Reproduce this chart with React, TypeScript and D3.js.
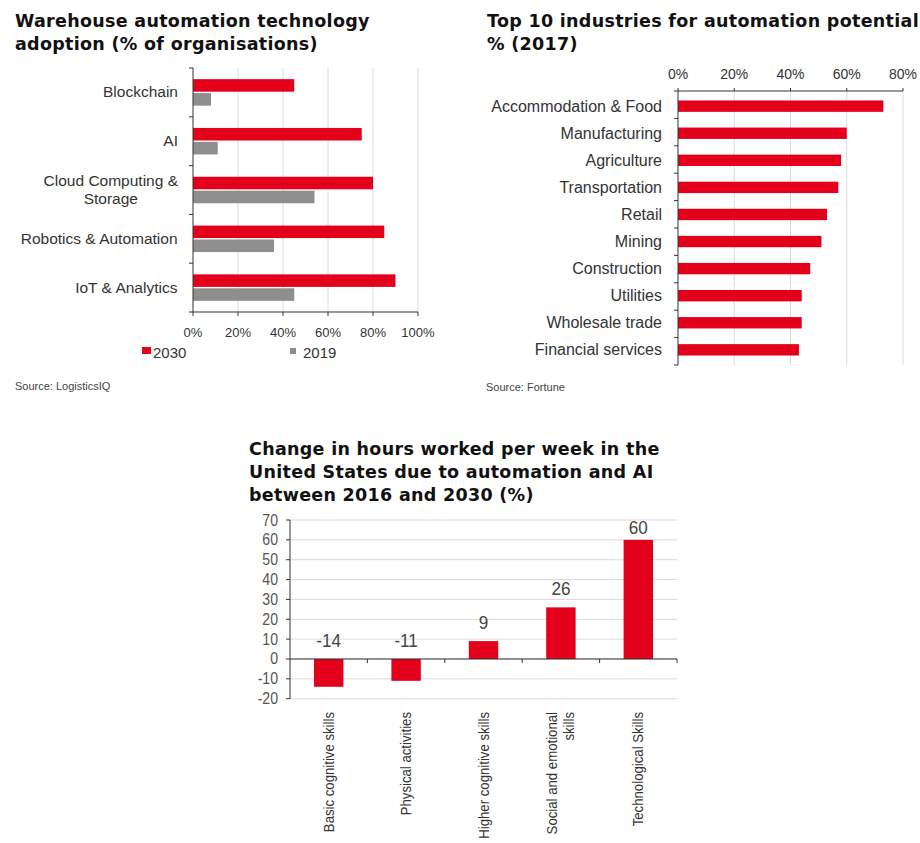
import React from "react";
import * as d3 from "d3";

// ---------- Data ----------
const whCategories = ["Blockchain", "AI", "Cloud Computing &\nStorage", "Robotics & Automation", "IoT & Analytics"];
const wh2030 = [45, 75, 80, 85, 90];
const wh2019 = [8, 11, 54, 36, 45];
const whTicks = [0, 20, 40, 60, 80, 100];
const whSeries = ["2030", "2019"];

const indCategories = [
  "Accommodation & Food",
  "Manufacturing",
  "Agriculture",
  "Transportation",
  "Retail",
  "Mining",
  "Construction",
  "Utilities",
  "Wholesale trade",
  "Financial services",
];
const indValues = [73, 60, 58, 57, 53, 51, 47, 44, 44, 43];
const indTicks = [0, 20, 40, 60, 80];

const hrsCategories = [
  "Basic cognitive skills",
  "Physical activities",
  "Higher cognitive skills",
  "Social and emotional\nskills",
  "Technological Skills",
];
const hrsValues = [-14, -11, 9, 26, 60];
const hrsTicks = [-20, -10, 0, 10, 20, 30, 40, 50, 60, 70];

// ---------- Styles ----------
const RED = "#E3001B";
const GRAY = "#8E8E8E";
const GRID = "#DADADA";
const AXIS = "#333";
const TXT = "#333";
const TITLE_FONT = "'DejaVu Sans', Arial, sans-serif";
const FONT = "'Liberation Sans', Arial, sans-serif";

let measureCtx: CanvasRenderingContext2D | null = null;
function textWidth(t: string, font: string) {
  if (!measureCtx) measureCtx = document.createElement("canvas").getContext("2d");
  if (!measureCtx) return t.length * 7;
  measureCtx.font = font;
  return measureCtx.measureText(t).width;
}

function Title({ x, y, lines }: { x: number; y: number; lines: string[] }) {
  return (
    <text x={x} y={y} fontFamily={TITLE_FONT} fontWeight="bold" fontSize={17.5} letterSpacing={0.3} fill="#111">
      {lines.map((l, i) => (
        <tspan key={i} x={x} dy={i === 0 ? 0 : 23}>
          {l}
        </tspan>
      ))}
    </text>
  );
}

function WarehouseChart() {
  const x = d3.scaleLinear().domain([0, 100]).range([193, 418]);
  const y = d3.scaleBand<string>().domain(whCategories).range([68, 312]).paddingInner(0).paddingOuter(0);
  const inner = d3.scaleBand<string>().domain(whSeries).range([0, y.bandwidth()]).paddingInner(0.1).paddingOuter(0.8);
  const colors: Record<string, string> = { "2030": RED, "2019": GRAY };
  const vals: Record<string, number[]> = { "2030": wh2030, "2019": wh2019 };
  const labelFont = `15.5px ${FONT}`;
  const labelRight = 178;
  return (
    <g>
      <Title x={15} y={27} lines={["Warehouse automation technology", "adoption (% of organisations)"]} />
      {whTicks.slice(1).map((t) => (
        <line key={t} x1={x(t)} x2={x(t)} y1={68} y2={312} stroke={GRID} />
      ))}
      {whSeries.map((s) =>
        whCategories.map((c, i) => (
          <rect
            key={s + c}
            x={x(0)}
            y={(y(c) as number) + (inner(s) as number)}
            width={x(vals[s][i]) - x(0)}
            height={inner.bandwidth()}
            fill={colors[s]}
          />
        ))
      )}
      <line x1={x(0)} x2={x(0)} y1={68} y2={312} stroke={AXIS} />
      {[...whCategories.map((c) => y(c) as number), 312].map((v, i) => (
        <line key={i} x1={x(0) - 4} x2={x(0)} y1={v} y2={v} stroke={AXIS} />
      ))}
      <line x1={x(0)} x2={x(100)} y1={312} y2={312} stroke={AXIS} />
      {whTicks.map((t) => (
        <g key={t}>
          <line x1={x(t)} x2={x(t)} y1={312} y2={316} stroke={AXIS} />
          <text x={x(t)} y={337} textAnchor="middle" fontFamily={FONT} fontSize={13} fill={TXT}>
            {t}%
          </text>
        </g>
      ))}
      {whCategories.map((c) => {
        const lines = c.split("\n");
        const cy = (y(c) as number) + y.bandwidth() / 2;
        const maxW = Math.max(...lines.map((l) => textWidth(l, labelFont)));
        const cx = labelRight - maxW / 2;
        return (
          <text key={c} fontFamily={FONT} fontSize={15.5} fill={TXT} textAnchor="middle">
            {lines.map((l, i) => (
              <tspan key={i} x={cx} y={cy + 5 + (i - (lines.length - 1) / 2) * 18}>
                {l}
              </tspan>
            ))}
          </text>
        );
      })}
      {/* legend */}
      <rect x={142} y={347} width={9} height={7} fill={RED} />
      <text x={153} y={358} fontFamily={FONT} fontSize={15} fill={TXT}>
        2030
      </text>
      <rect x={290} y={348} width={6} height={6} fill={GRAY} />
      <text x={303} y={358} fontFamily={FONT} fontSize={15} fill={TXT}>
        2019
      </text>
      <text x={15} y={390} fontFamily={FONT} fontSize={11} fill="#444">
        Source: LogisticsIQ
      </text>
    </g>
  );
}

function IndustryChart() {
  const x = d3.scaleLinear().domain([0, 80]).range([678, 903]);
  const y = d3.scaleBand<string>().domain(indCategories).range([91, 365]).paddingInner(0.58).paddingOuter(0.35);
  const bounds = d3.range(indCategories.length + 1).map((i) => 91 + (i * 274) / indCategories.length);
  return (
    <g>
      <Title x={487} y={27} lines={["Top 10 industries for automation potential", "% (2017)"]} />
      {indTicks.slice(1).map((t) => (
        <line key={t} x1={x(t)} x2={x(t)} y1={91} y2={365} stroke={GRID} />
      ))}
      {indCategories.map((c, i) => (
        <rect key={c} x={x(0)} y={y(c) as number} width={x(indValues[i]) - x(0)} height={y.bandwidth()} fill={RED} />
      ))}
      <line x1={x(0)} x2={x(80)} y1={91} y2={91} stroke={AXIS} />
      {indTicks.map((t) => (
        <g key={t}>
          <line x1={x(t)} x2={x(t)} y1={88} y2={91} stroke={AXIS} />
          <text x={x(t)} y={79} textAnchor="middle" fontFamily={FONT} fontSize={14} fill={TXT}>
            {t}%
          </text>
        </g>
      ))}
      <line x1={x(0)} x2={x(0)} y1={91} y2={365} stroke={AXIS} />
      {bounds.map((v, i) => (
        <line key={i} x1={x(0) - 4} x2={x(0)} y1={v} y2={v} stroke={AXIS} />
      ))}
      {indCategories.map((c) => (
        <text
          key={c}
          x={662}
          y={(y(c) as number) + y.bandwidth() / 2 + 5.5}
          textAnchor="end"
          fontFamily={FONT}
          fontSize={16}
          fill={TXT}
        >
          {c}
        </text>
      ))}
      <text x={486} y={391} fontFamily={FONT} fontSize={11} fill="#444">
        Source: Fortune
      </text>
    </g>
  );
}

function HoursChart() {
  const y = d3.scaleLinear().domain([-20, 70]).range([698.7, 520]);
  const x = d3.scaleBand<string>().domain(hrsCategories).range([290, 677]).paddingInner(0.62).paddingOuter(0.31);
  const step = x.step();
  return (
    <g>
      <Title
        x={249}
        y={455}
        lines={["Change in hours worked per week in the", "United States due to automation and AI", "between 2016 and 2030 (%)"]}
      />
      {hrsTicks.map((t) => (
        <line key={t} x1={290} x2={677} y1={y(t)} y2={y(t)} stroke={GRID} />
      ))}
      {hrsCategories.map((c, i) => {
        const v = hrsValues[i];
        return (
          <rect
            key={c}
            x={x(c) as number}
            y={y(Math.max(v, 0))}
            width={x.bandwidth()}
            height={Math.abs(y(v) - y(0))}
            fill={RED}
          />
        );
      })}
      <line x1={290} x2={290} y1={520} y2={698.7} stroke={AXIS} />
      {hrsTicks.map((t) => (
        <g key={t}>
          <line x1={286} x2={290} y1={y(t)} y2={y(t)} stroke={AXIS} />
          <text
            transform={`translate(278,${y(t) + 5.5}) scale(0.88,1)`}
            textAnchor="end"
            fontFamily={FONT}
            fontSize={16}
            fill="#555"
          >
            {t}
          </text>
        </g>
      ))}
      <line x1={290} x2={677} y1={y(0)} y2={y(0)} stroke={AXIS} />
      {hrsCategories.slice(1).map((c) => {
        const bx = (x(c) as number) - (step - x.bandwidth()) / 2;
        return <line key={c} x1={bx} x2={bx} y1={y(0)} y2={y(0) + 4} stroke={AXIS} />;
      })}
      <line x1={677} x2={677} y1={y(0)} y2={y(0) + 4} stroke={AXIS} />
      {hrsCategories.map((c, i) => {
        const v = hrsValues[i];
        const cx = (x(c) as number) + x.bandwidth() / 2;
        const by = Math.max(y(Math.max(v, 0)) - 12, 534);
        return (
          <text
            key={c}
            transform={`translate(${cx},${by}) scale(0.9,1)`}
            textAnchor="middle"
            fontFamily={FONT}
            fontSize={19}
            fill="#444"
          >
            {v}
          </text>
        );
      })}
      {hrsCategories.map((c) => {
        const lines = c.split("\n");
        const cx = (x(c) as number) + x.bandwidth() / 2;
        return (
          <text
            key={c}
            transform={`translate(${cx},712) rotate(-90) scale(0.88,1)`}
            textAnchor="end"
            fontFamily={FONT}
            fontSize={15}
            fill={TXT}
          >
            {lines.map((l, i) => (
              <tspan key={i} x={0} y={5 + (i - (lines.length - 1) / 2) * 17}>
                {l}
              </tspan>
            ))}
          </text>
        );
      })}
    </g>
  );
}

export default function App() {
  return (
    <div style={{ position: "absolute", left: 0, top: 0 }}>
      <svg width={920} height={843} viewBox="0 0 920 843" style={{ display: "block", background: "#fff" }}>
        <rect width={920} height={843} fill="#fff" />
        <WarehouseChart />
        <IndustryChart />
        <HoursChart />
      </svg>
    </div>
  );
}
